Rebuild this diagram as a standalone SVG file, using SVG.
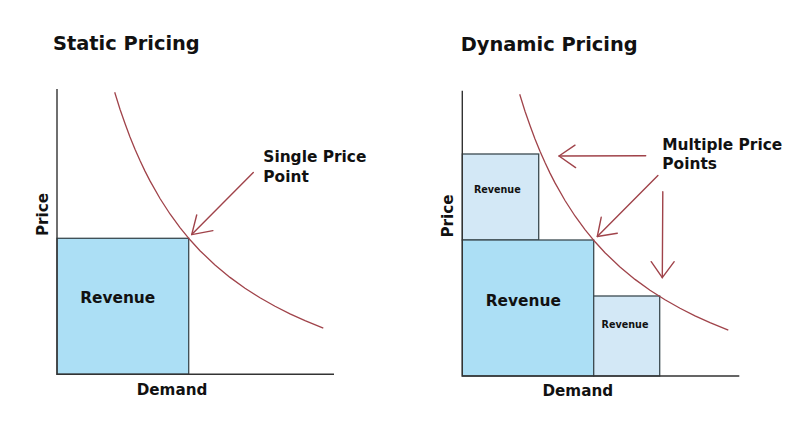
<svg xmlns="http://www.w3.org/2000/svg" xmlns:xlink="http://www.w3.org/1999/xlink" width="800" height="438" viewBox="0 0 800 438">
<style>
  .t { font-family: "DejaVu Sans", Verdana, sans-serif; font-weight: bold; fill: #111; }
  .title { font-size: 19.4px; }
  .lbl { font-size: 15.4px; }
  .ax { font-size: 15.2px; text-anchor: middle; }
  .rev { font-size: 15.4px; text-anchor: middle; }
  .revs { font-size: 9.6px; text-anchor: middle; }
  .axis { stroke: #333; stroke-width: 1.4; fill: none; }
  .box { stroke: #3b4a50; stroke-width: 1.3; }
  .big { fill: #acdff5; }
  .small { fill: #d3e8f6; }
  .curve { stroke: #a0434a; stroke-width: 1.3; fill: none; }
  .arr { stroke: #a0434a; stroke-width: 1.4; fill: none; stroke-linecap: round; stroke-linejoin: round; }
</style>
<defs>
  <path id="demandCurve" d="M114.7,92.3 L120,109.2 L125,123.5 L130,137 L135,149.3 L140,160.6 L145,171.1 L150,180.9 L160,198.5 L170,214 L180,227.6 L190,239.8 L200,250.7 L215,265 L230,277.4 L245,288.3 L260,297.8 L275,306.3 L290,313.9 L305,320.7 L323.3,328.2"/>
</defs>
<rect width="800" height="438" fill="#fff"/>

<g id="static-chart">
  <text class="t title" x="53" y="50">Static Pricing</text>
  <g id="static-revenue">
    <rect class="box big" x="57" y="238.3" width="131.7" height="136"/>
    <text class="t rev" x="117.7" y="303">Revenue</text>
  </g>
  <g id="static-axes">
    <polyline class="axis" points="57,89 57,374.3 334,374.3"/>
    <text class="t ax" transform="translate(48,214.5) rotate(-90)" x="0" y="0">Price</text>
    <text class="t ax" x="172" y="395">Demand</text>
  </g>
  <use id="static-curve" class="curve" xlink:href="#demandCurve"/>
  <g id="static-label">
    <text class="t lbl" x="263.3" y="162.3">Single Price</text>
    <text class="t lbl" x="263.3" y="181.7">Point</text>
  </g>
</g>

<g id="dynamic-chart">
  <text class="t title" x="460.7" y="51">Dynamic Pricing</text>
  <g id="dyn-revenue-top">
    <rect class="box small" x="462.3" y="154" width="76.4" height="86"/>
    <text class="t revs" x="497.3" y="193.3">Revenue</text>
  </g>
  <g id="dyn-revenue-big">
    <rect class="box big" x="462.3" y="240" width="131.4" height="136"/>
    <text class="t rev" x="523.3" y="305.7">Revenue</text>
  </g>
  <g id="dyn-revenue-right">
    <rect class="box small" x="593.7" y="296" width="66" height="80"/>
    <text class="t revs" x="625" y="328.3">Revenue</text>
  </g>
  <g id="dyn-axes">
    <polyline class="axis" points="462.3,90.7 462.3,376 739.3,376"/>
    <text class="t ax" transform="translate(453.3,216) rotate(-90)" x="0" y="0">Price</text>
    <text class="t ax" x="577.8" y="396">Demand</text>
  </g>
  <use id="dynamic-curve" class="curve" xlink:href="#demandCurve" transform="translate(405,2)"/>
  <g id="dyn-label">
    <text class="t lbl" x="662.3" y="150">Multiple Price</text>
    <text class="t lbl" x="662.3" y="169">Points</text>
  </g>
</g>

<g id="connectors">
  <line class="arr" x1="253.3" y1="172.5" x2="191.7" y2="234.6"/>
  <polyline class="arr" points="196.7,215 191.7,234.6 212.9,230.6"/>
  <line class="arr" x1="645.7" y1="155.8" x2="559" y2="156"/>
  <polyline class="arr" points="575,145.2 559,156 575.6,167.6"/>
  <line class="arr" x1="657.9" y1="175.5" x2="597.3" y2="236.5"/>
  <polyline class="arr" points="601.2,217.3 597.3,236.5 617.3,233.2"/>
  <line class="arr" x1="662.8" y1="191.7" x2="662.3" y2="277.7"/>
  <polyline class="arr" points="651.2,261.7 662.3,277.7 674.2,261.7"/>
</g>
</svg>
